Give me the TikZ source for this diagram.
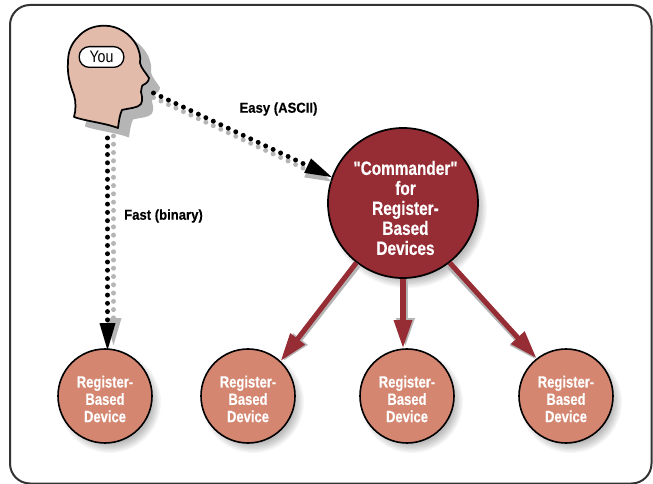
\documentclass[tikz,border=0pt]{standalone}
\usepackage{fontspec}
\newfontfamily\narrowbold[FakeStretch=0.8,BoldFeatures={FakeBold=0.3}]{Liberation Sans}
\newfontfamily\labelbold[FakeStretch=0.91,BoldFeatures={FakeBold=0.3}]{Liberation Sans}
\newfontfamily\youfont[FakeStretch=0.85]{Liberation Sans}
\usetikzlibrary{arrows.meta,calc}
\definecolor{brick}{HTML}{962D35}
\definecolor{salmon}{HTML}{D48670}
\definecolor{skin}{HTML}{E3BBAB}
\definecolor{shadowgray}{HTML}{B5B5B5}
\definecolor{framec}{HTML}{333333}
\newcommand{\softshadow}[3]{%
  \foreach \k in {0,...,7}{
    \fill[black,opacity=0.035] (#1+5,#2+6) circle ({(#3+4-\k*1.3)*0.75pt});
  }}
\tikzset{
  x=0.75pt,y=-0.75pt,
  lbl/.style={font=\labelbold\bfseries\fontsize{10.8pt}{12pt}\selectfont,text=black,align=center,inner sep=0pt},
  devtext/.style={font=\narrowbold\bfseries\fontsize{12.2pt}{13pt}\selectfont,text=white,align=center,inner sep=0pt},
  cmdtext/.style={font=\narrowbold\bfseries\fontsize{14.4pt}{15pt}\selectfont,text=white,align=center,inner sep=0pt},
  device/.style={circle,draw=black,line width=1.2pt,fill=salmon,minimum size=70.5pt,inner sep=0pt},
  commander/.style={circle,draw=black,line width=1.3pt,fill=brick,minimum size=112.5pt,inner sep=0pt},
  dotline/.style={line width=3.7pt,line cap=round,dash pattern=on 0pt off 6.2pt},
  redline/.style={line width=3.8pt},
  headtip/.style={-{Triangle[length=21pt,width=13pt]}},
  youbadge/.style={draw=black,line width=1pt,fill=white,rounded corners=7.5pt,minimum width=33.5pt,minimum height=15.5pt,inner sep=0pt,font=\youfont\fontsize{12.5pt}{13pt}\selectfont},
}
\begin{document}
\begin{tikzpicture}
\useasboundingbox (0,0) rectangle (653,484);
\fill[white] (0,0) rectangle (653,484);
\draw[framec,line width=1.5pt,rounded corners=15pt] (10,5) rectangle (651.5,483.5);
\def\headpath{(105,25.7) .. controls (93,25.5) and (84,30) .. (78,37)
  .. controls (71,44) and (68,52) .. (68,62)
  .. controls (67,74) and (70,85) .. (74,95)
  .. controls (76,102) and (76,110) .. (74,117)
  .. controls (85,121) and (105,123) .. (118,128)
  .. controls (119,120) and (120,114) .. (122,110)
  .. controls (130,108) and (138,108) .. (141,104)
  .. controls (143,100) and (142,96) .. (141,92)
  .. controls (142,90) and (141,86) .. (143,85)
  .. controls (146,84) and (149,81) .. (149,78)
  .. controls (146,73) and (141,68) .. (140,63)
  .. controls (141,56) and (139,51) .. (137,46)
  .. controls (130,33) and (118,26) .. (105,25.7) -- cycle}
\fill[shadowgray,shift={(11,9.5)}] \headpath;
\softshadow{403}{203}{75}
\softshadow{105}{396}{47}
\softshadow{248}{396}{47}
\softshadow{407}{396}{47}
\softshadow{566}{396}{47}
\node[commander] (cmd) at (403,203) {};
\node[device] (d1) at (105,396) {};
\node[device] (d2) at (248,396) {};
\node[device] (d3) at (407,396) {};
\node[device] (d4) at (566,396) {};
\node[cmdtext] at (405.5,208) {"Commander"\\for\\Register-\\Based\\Devices};
\node[devtext] at (105,399) {Register-\\Based\\Device};
\node[devtext] at (248,399) {Register-\\Based\\Device};
\node[devtext] at (407,399) {Register-\\Based\\Device};
\node[devtext] at (566,399) {Register-\\Based\\Device};
\coordinate (face) at (153.5,93);
\coordinate (neck) at (107.5,138);
\coordinate (fasttip) at ($(d1.north)+(2.5,2)$);
\coordinate (fastbase) at ($(fasttip)+(0,-27)$);
\coordinate (easybase) at ($(cmd.160)!20pt!(face)$);
\coordinate (easyw1) at ($(easybase)!6pt!90:(face)$);
\coordinate (easyw2) at ($(easybase)!6pt!-90:(face)$);
% connector shadows
\draw[shadowgray,dotline] ($(neck)+(6,-2)$) -- ($(fastbase)+(6,-2)$);
\fill[shadowgray] ($(fasttip)+(6,-5)$) -- ($(fastbase)+(-2,-5)$) -- ($(fastbase)+(14,-5)$) -- cycle;
\draw[shadowgray,dotline] ($(face)+(0,4.5)$) -- ($(easybase)+(0,4.5)$);
\fill[shadowgray] ($(easyw1)+(0,4.5)$) -- ($(cmd.160)+(0,4.5)$) -- ($(easyw2)+(0,4.5)$) -- cycle;
\draw[shadowgray,redline,headtip] ($(cmd.232)+(2.5,2)$) -- ($(d2.47)+(2.5,0)$);
\draw[shadowgray,redline,headtip] ($(cmd.south)+(2.5,0)$) -- ($(cmd.south |- d3.north)+(2.5,-2)$);
\draw[shadowgray,redline,headtip] ($(cmd.308)+(-1,3)$) -- ($(d4.128)+(-1,1)$);
% connectors
\draw[black,dotline] (neck) -- (fastbase);
\fill[black] (fasttip) -- ($(fastbase)+(-8,0)$) -- ($(fastbase)+(8,0)$) -- cycle;
\draw[black,dotline] (face) -- (easybase);
\fill[black] (easyw1) -- (cmd.160) -- (easyw2) -- cycle;
\draw[brick,redline,headtip] (cmd.232) -- (d2.47);
\draw[brick,redline,headtip] (cmd.south) -- (cmd.south |- d3.north);
\draw[brick,redline,headtip] (cmd.308) -- (d4.128);
% head
\draw[black,fill=skin,line width=1.3pt,line join=round] \headpath;
\node[youbadge] (you) at (101.5,57) {You};
\node[lbl] (easy) at (278.5,109) {Easy (ASCII)};
\node[lbl] (fast) at (163.5,216) {Fast (binary)};
\end{tikzpicture}
\end{document}
